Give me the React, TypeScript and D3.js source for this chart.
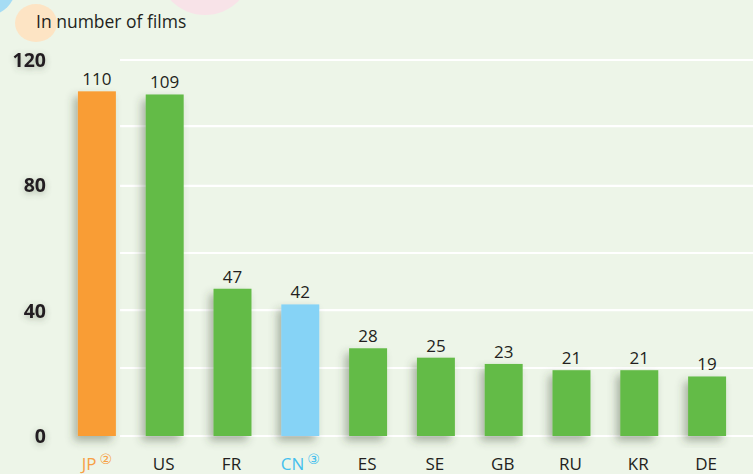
import React from "react";
import * as d3 from "d3";

const categories = ["JP", "US", "FR", "CN", "ES", "SE", "GB", "RU", "KR", "DE"];
const values = [110, 109, 47, 42, 28, 25, 23, 21, 21, 19];
const notes: Record<string, string> = { JP: "②", CN: "③" };
const yTickLabels = [0, 40, 80, 120];
const gridValues = [0, 21.7, 40.2, 58.4, 79.8, 98.9, 120];

const W = 753;
const H = 474;

const barColor = (c: string) => (c === "JP" ? "#F99D34" : c === "CN" ? "#86D3F6" : "#64BB47");
const labelColor = (c: string) => (c === "JP" ? "#F7A045" : c === "CN" ? "#45BFEE" : "#231F20");

export default function App() {
  const x = d3.scaleBand<string>().domain(categories).range([63, 741]).paddingInner(0.44).paddingOuter(0.22);
  const y = d3.scaleLinear().domain([0, 120]).range([436, 60]);
  const font = "'Open Sans', 'Noto Sans', sans-serif";
  return (
    <svg width={W} height={H} style={{ position: "absolute", left: 0, top: 0 }}>
      <defs>
        <filter id="barShadow" x="-50%" y="-20%" width="200%" height="140%">
          <feDropShadow dx={-4} dy={5} stdDeviation={4} floodColor="#3a4a35" floodOpacity={0.38} />
        </filter>
        <filter id="textShadow" x="-50%" y="-50%" width="200%" height="200%">
          <feDropShadow dx={0} dy={2} stdDeviation={3} floodColor="#4a5a45" floodOpacity={0.4} />
        </filter>
        <filter id="lineBlur" x="-5%" y="-200%" width="110%" height="500%">
          <feGaussianBlur stdDeviation={3} />
        </filter>
      </defs>
      <rect x={0} y={0} width={W} height={H} fill="#EDF5E8" />
      <circle cx={-14} cy={-14} r={30} fill="#A5DCF4" />
      <ellipse cx={36} cy={23} rx={21} ry={19} fill="#FDE4C4" />
      <circle cx={205} cy={-32} r={47} fill="#F8E3E8" />
      <text x={36} y={28} fontFamily={font} fontSize={17.5} fill="#231F20">In number of films</text>

      {gridValues.map((v, i) => (
        <g key={i}>
          <line x1={120} x2={W} y1={y(v) + 4} y2={y(v) + 4} stroke="#c9d6c2" strokeWidth={5} opacity={0.5} filter="url(#lineBlur)" />
          <line x1={120} x2={W} y1={y(v)} y2={y(v)} stroke="#FFFFFF" strokeWidth={2.2} />
        </g>
      ))}

      {yTickLabels.map((t) => (
        <text key={t} x={46} y={y(t)} dy="0.36em" textAnchor="end" fontFamily={font} fontWeight="bold" fontSize={19.5} fill="#231F20" filter="url(#textShadow)">
          {t}
        </text>
      ))}

      {categories.map((c, i) => (
        <rect key={c} x={x(c)} y={y(values[i])} width={x.bandwidth()} height={y(0) - y(values[i])} fill={barColor(c)} filter="url(#barShadow)" />
      ))}

      {categories.map((c, i) => (
        <text key={c} x={(x(c) as number) + x.bandwidth() / 2} y={y(values[i]) - 6} textAnchor="middle" fontFamily={font} fontSize={17} fill="#231F20">
          {values[i]}
        </text>
      ))}

      {categories.map((c) => (
        <text key={c} x={(x(c) as number) + x.bandwidth() / 2 + (notes[c] ? 0 : -1)} y={470} textAnchor="middle" fontFamily={font} fontSize={17} fill={labelColor(c)}>
          {c}
          {notes[c] ? (
            <tspan dx={3} dy={-6} fontSize={14} fontFamily="'DejaVu Sans', sans-serif">{notes[c]}</tspan>
          ) : null}
        </text>
      ))}
    </svg>
  );
}
